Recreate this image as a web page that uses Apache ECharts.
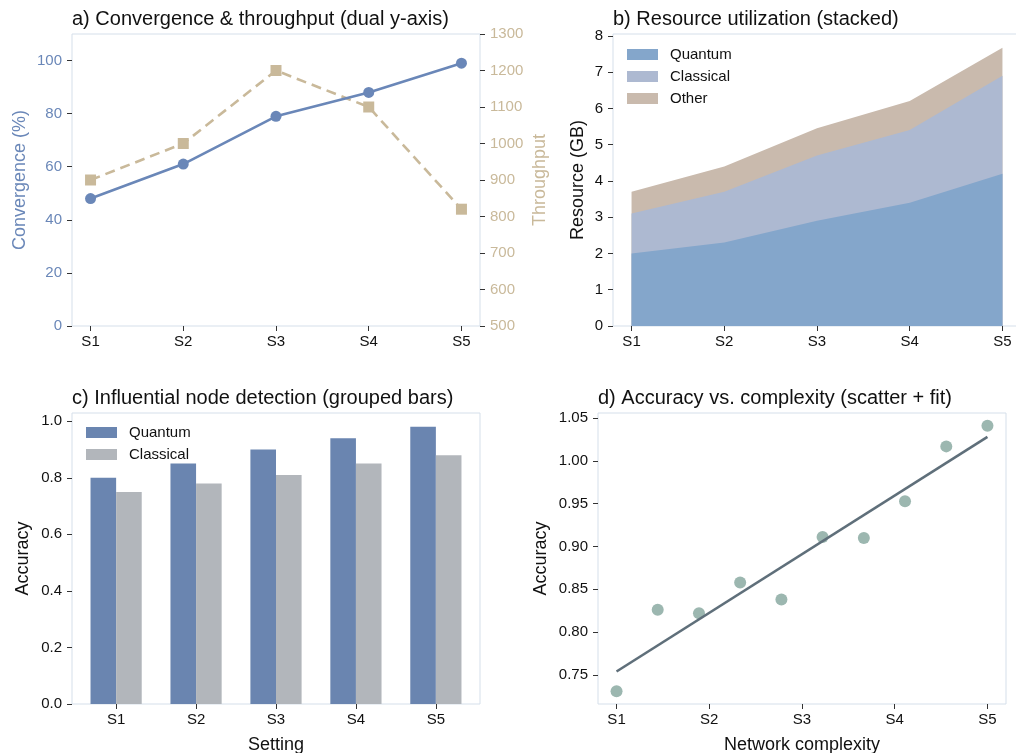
<!DOCTYPE html>
<html>
<head>
<meta charset="utf-8">
<script src="https://cdn.jsdelivr.net/npm/echarts@6/dist/echarts.min.js"></script>
<style>
html,body{margin:0;padding:0;background:#fff;}
#chart{width:1016px;height:753px;}
</style>
</head>
<body>
<div id="chart"></div>
<script>
// ---- data ----
const settings = ['S1', 'S2', 'S3', 'S4', 'S5'];
const settingPos = [0, 1, 2, 3, 4];
const convergence = [48, 61, 79, 88, 99];
const throughput = [900, 1000, 1200, 1100, 820];
const resQuantum = [2.0, 2.3, 2.9, 3.4, 4.2];
const resClassical = [1.1, 1.4, 1.8, 2.0, 2.7];
const resOther = [0.6, 0.7, 0.75, 0.8, 0.77];
const accQuantum = [0.80, 0.85, 0.90, 0.94, 0.98];
const accClassical = [0.75, 0.78, 0.81, 0.85, 0.88];
const complexityX = [0, 0.444, 0.889, 1.333, 1.778, 2.222, 2.667, 3.111, 3.556, 4];
const complexityAcc = [0.731, 0.826, 0.822, 0.858, 0.838, 0.911, 0.910, 0.953, 1.017, 1.041];
const fitX = [0, 4];
const fitY = [0.754, 1.028];
const convTicks = [0, 20, 40, 60, 80, 100];
const thrTicks = [500, 600, 700, 800, 900, 1000, 1100, 1200, 1300];
const resTicks = [0, 1, 2, 3, 4, 5, 6, 7, 8];
const accTicks = [0, 0.2, 0.4, 0.6, 0.8, 1.0];
const scatTicks = [0.75, 0.80, 0.85, 0.90, 0.95, 1.00, 1.05];

// ---- helpers ----
const FONT = 'Liberation Sans, Arial, sans-serif';
const pairs = (xs, ys) => xs.map((x, i) => [x, ys[i]]);
// cumulative tops for the stacked areas (stack drawn by painting order)
const cumQ = resQuantum.slice();
const cumQC = resQuantum.map((v, i) => v + resClassical[i]);
const cumQCO = cumQC.map((v, i) => v + resOther[i]);
const SPINE = '#d5dfea';
const TICKC = '#333';

function xAxisSettings(gridIndex, min, max, name, nameGap) {
  return {
    type: 'value', gridIndex, min, max,
    name: name || '', nameLocation: 'middle', nameGap: nameGap || 30,
    nameTextStyle: { fontSize: 18, color: '#111', fontFamily: FONT },
    axisLine: { show: false, onZero: false },
    splitLine: { show: false },
    axisTick: { show: true, length: 5, lineStyle: { color: TICKC, width: 1 }, customValues: settingPos },
    axisLabel: { show: true, customValues: settingPos, margin: 8, fontSize: 15, color: '#111', fontFamily: FONT,
      formatter: v => settings[Math.round(v)] }
  };
}
function yAxisVal(gridIndex, min, max, ticks, fmt, color, name, nameGap, nameColor, position) {
  return {
    type: 'value', gridIndex, min, max, position: position || 'left',
    name, nameLocation: 'middle', nameGap, nameRotate: 90,
    nameTextStyle: { fontSize: 18, color: nameColor || '#111', fontFamily: FONT },
    axisLine: { show: false, onZero: false },
    splitLine: { show: false },
    axisTick: { show: true, length: 5, lineStyle: { color: TICKC, width: 1 }, customValues: ticks },
    axisLabel: { show: true, customValues: ticks, margin: 10, fontSize: 15, color: color || '#111', fontFamily: FONT, formatter: fmt }
  };
}

const grids = [
  { left: 72, top: 34, width: 408, height: 292 },
  { left: 613, top: 34, width: 408, height: 292 },
  { left: 72, top: 413, width: 408, height: 291 },
  { left: 598, top: 413, width: 408, height: 291 }
].map(g => Object.assign({ show: true, borderColor: SPINE, borderWidth: 1, backgroundColor: 'transparent',
  containLabel: false, outerBoundsMode: 'none' }, g));

const titleStyle = { fontSize: 20, fontWeight: 'normal', color: '#111', fontFamily: FONT };

const option = {
  animation: false,
  backgroundColor: '#fff',
  title: [
    { text: 'a) Convergence & throughput (dual y-axis)', left: 72, top: 9, padding: 0, textStyle: titleStyle },
    { text: 'b) Resource utilization (stacked)', left: 613, top: 9, padding: 0, textStyle: titleStyle },
    { text: 'c) Influential node detection (grouped bars)', left: 72, top: 388, padding: 0, textStyle: titleStyle },
    { text: 'd) Accuracy vs. complexity (scatter + fit)', left: 598, top: 388, padding: 0, textStyle: titleStyle }
  ],
  legend: [
    { orient: 'vertical', left: 627, top: 47, padding: 0, itemWidth: 31, itemHeight: 11, itemGap: 7,
      textStyle: { fontSize: 15, color: '#111', fontFamily: FONT, lineHeight: 15, padding: [0, 0, 0, 7] },
      data: [{ name: 'Quantum', icon: 'rect' }, { name: 'Classical', icon: 'rect' }, { name: 'Other', icon: 'rect' }] },
    { orient: 'vertical', left: 86, top: 425, padding: 0, itemWidth: 31, itemHeight: 11, itemGap: 7,
      textStyle: { fontSize: 15, color: '#111', fontFamily: FONT, lineHeight: 15, padding: [0, 0, 0, 7] },
      data: [{ name: 'Quantum ', icon: 'rect' }, { name: 'Classical ', icon: 'rect' }] }
  ],
  grid: grids,
  xAxis: [
    xAxisSettings(0, -0.2, 4.2),
    xAxisSettings(1, -0.2, 4.2),
    xAxisSettings(2, -0.552, 4.552, 'Setting', 32),
    xAxisSettings(3, -0.2, 4.2, 'Network complexity', 32)
  ],
  yAxis: [
    yAxisVal(0, 0, 110, convTicks, v => String(v), '#6a87b8', 'Convergence (%)', 43, '#6a87b8', 'left'),
    yAxisVal(0, 500, 1300, thrTicks, v => String(v), '#c9b99a', 'Throughput', 51, '#c9b99a', 'right'),
    yAxisVal(1, 0, 8.05, resTicks, v => String(v), '#111', 'Resource (GB)', 26, '#111', 'left'),
    yAxisVal(2, 0, 1.029, accTicks, v => v.toFixed(1), '#111', 'Accuracy', 40, '#111', 'left'),
    yAxisVal(3, 0.716, 1.056, scatTicks, v => v.toFixed(2), '#111', 'Accuracy', 48, '#111', 'left')
  ],
  series: [
    // panel a
    { type: 'line', name: 'Throughput', xAxisIndex: 0, yAxisIndex: 1, data: pairs(settingPos, throughput),
      symbol: 'rect', symbolSize: 11, itemStyle: { color: '#c9b99a' },
      lineStyle: { color: '#c9b99a', width: 2.6, type: [10, 6] }, z: 2 },
    { type: 'line', name: 'Convergence', xAxisIndex: 0, yAxisIndex: 0, data: pairs(settingPos, convergence),
      symbol: 'circle', symbolSize: 11, itemStyle: { color: '#6a87b8' },
      lineStyle: { color: '#6a87b8', width: 2.6 }, z: 3 },
    // panel b (stacked: top-most cumulative painted first)
    { type: 'line', name: 'Other', xAxisIndex: 1, yAxisIndex: 2, data: pairs(settingPos, cumQCO), z: 2,
      symbol: 'none', lineStyle: { width: 0 }, itemStyle: { color: '#c9baad' }, areaStyle: { color: '#c9baad', opacity: 1, origin: 'start' } },
    { type: 'line', name: 'Classical', xAxisIndex: 1, yAxisIndex: 2, data: pairs(settingPos, cumQC), z: 3,
      symbol: 'none', lineStyle: { width: 0 }, itemStyle: { color: '#adb9d1' }, areaStyle: { color: '#adb9d1', opacity: 1, origin: 'start' } },
    { type: 'line', name: 'Quantum', xAxisIndex: 1, yAxisIndex: 2, data: pairs(settingPos, cumQ), z: 4,
      symbol: 'none', lineStyle: { width: 0 }, itemStyle: { color: '#84a6cb' }, areaStyle: { color: '#84a6cb', opacity: 1, origin: 'start' } },
    // panel c
    { type: 'bar', name: 'Quantum ', xAxisIndex: 2, yAxisIndex: 3, data: pairs(settingPos, accQuantum),
      barWidth: 25.6, barGap: '0%', itemStyle: { color: '#6a85b0' } },
    { type: 'bar', name: 'Classical ', xAxisIndex: 2, yAxisIndex: 3, data: pairs(settingPos, accClassical),
      barWidth: 25.6, barGap: '0%', itemStyle: { color: '#b2b6bb' } },
    // panel d
    { type: 'scatter', name: 'Observed', xAxisIndex: 3, yAxisIndex: 4, data: pairs(complexityX, complexityAcc),
      symbolSize: 12, itemStyle: { color: '#9cb7b0', opacity: 1 }, z: 2 },
    { type: 'line', name: 'Fit', xAxisIndex: 3, yAxisIndex: 4, data: pairs(fitX, fitY),
      symbol: 'none', lineStyle: { color: '#5f6f7a', width: 2.6 }, z: 3 }
  ]
};

const chart = echarts.init(document.getElementById('chart'), null, { renderer: 'canvas' });
chart.setOption(option);
</script>
</body>
</html>
